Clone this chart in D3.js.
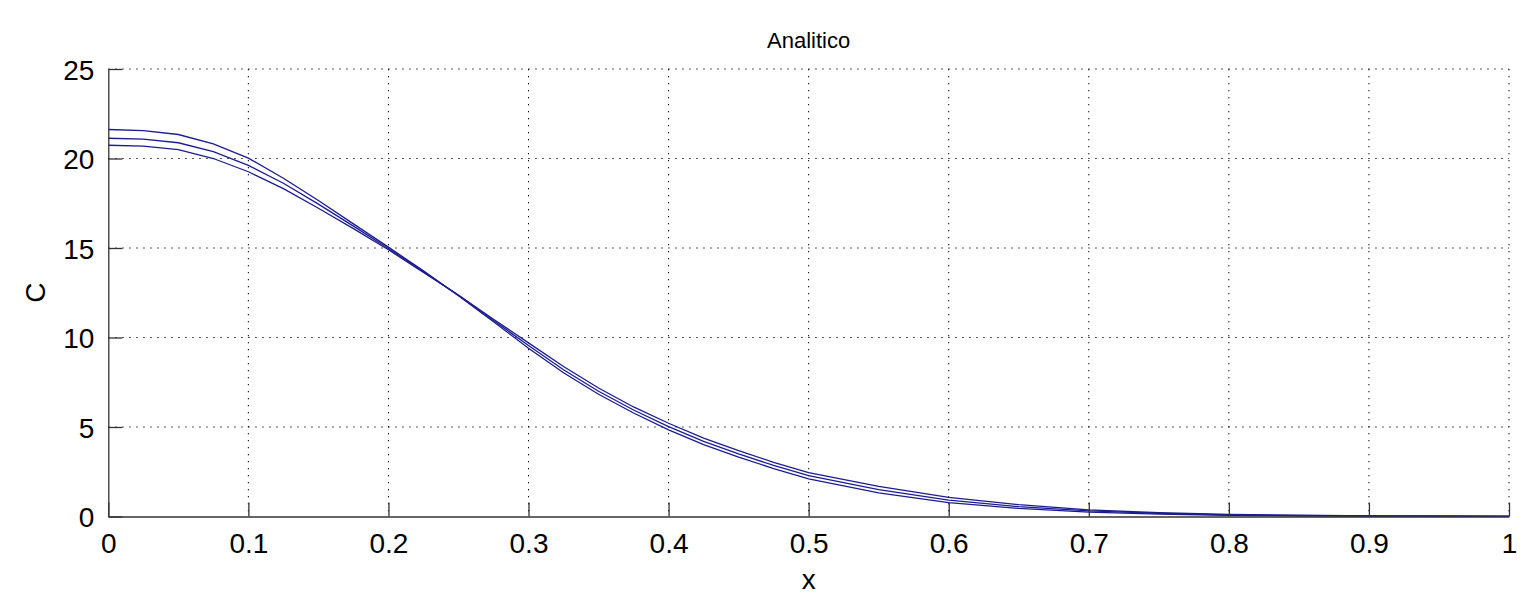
<!DOCTYPE html>
<html>
<head>
<meta charset="utf-8">
<script src="https://cdn.jsdelivr.net/npm/d3@7"></script>
<style>
  body { margin: 0; background: #fff; }
  text { font-family: "Liberation Sans", Arial, sans-serif; fill: #000; }
</style>
</head>
<body>
<div id="chart"></div>
<script>
// sample positions along x
const xs = [0, 0.025, 0.05, 0.075, 0.1, 0.125, 0.15, 0.175, 0.2, 0.225, 0.25, 0.275, 0.3,
  0.325, 0.35, 0.375, 0.4, 0.425, 0.45, 0.475, 0.5, 0.55, 0.6, 0.65, 0.7, 0.75, 0.8, 0.85, 0.9, 1.0];

// three analytic profiles
const curveA = [21.62, 21.56, 21.34, 20.82, 20.02, 18.9, 17.65, 16.35, 15.05, 13.72, 12.33, 10.88, 9.4,
  8.03, 6.83, 5.78, 4.84, 4.02, 3.32, 2.68, 2.1, 1.32, 0.78, 0.45, 0.25, 0.13, 0.07, 0.04, 0.02, 0.005];
const curveB = [21.13, 21.08, 20.88, 20.38, 19.62, 18.62, 17.45, 16.22, 14.97, 13.68, 12.35, 10.95, 9.55,
  8.2, 7.0, 5.95, 5.02, 4.2, 3.5, 2.85, 2.28, 1.5, 0.92, 0.55, 0.31, 0.17, 0.09, 0.05, 0.03, 0.01];
const curveC = [20.74, 20.69, 20.5, 20.0, 19.26, 18.32, 17.22, 16.08, 14.9, 13.64, 12.37, 11.02, 9.7,
  8.38, 7.18, 6.12, 5.21, 4.38, 3.68, 3.03, 2.45, 1.68, 1.07, 0.66, 0.37, 0.21, 0.12, 0.07, 0.04, 0.015];

const xTicks = [0, 0.1, 0.2, 0.3, 0.4, 0.5, 0.6, 0.7, 0.8, 0.9, 1];
const yTicks = [0, 5, 10, 15, 20, 25];

const width = 1528, height = 604;
const margin = { top: 69, right: 19, bottom: 87.5, left: 108.3 };
const plotW = width - margin.left - margin.right;
const plotH = height - margin.top - margin.bottom;

const svg = d3.select("#chart").append("svg")
    .attr("width", width)
    .attr("height", height);

const g = svg.append("g")
    .attr("transform", `translate(${margin.left},${margin.top})`);

const x = d3.scaleLinear().domain([0, 1]).range([0, plotW]);
const y = d3.scaleLinear().domain([0, 25]).range([plotH, 0]);

// dotted grid
g.append("g").selectAll("line")
    .data(xTicks.slice(1))
    .enter().append("line")
    .attr("x1", d => x(d)).attr("x2", d => x(d))
    .attr("y1", 0).attr("y2", plotH)
    .attr("stroke", "#000")
    .attr("stroke-width", 1)
    .attr("stroke-dasharray", "1.3,5.7");

g.append("g").selectAll("line")
    .data(yTicks.slice(1))
    .enter().append("line")
    .attr("x1", 0).attr("x2", plotW)
    .attr("y1", d => y(d)).attr("y2", d => y(d))
    .attr("stroke", "#000")
    .attr("stroke-width", 1)
    .attr("stroke-dasharray", "1.3,5.7");

// curves
const line = d3.line()
    .x(d => x(d[0]))
    .y(d => y(d[1]));

[curveA, curveB, curveC].forEach(vals => {
    g.append("path")
        .datum(xs.map((v, i) => [v, vals[i]]))
        .attr("fill", "none")
        .attr("stroke", "#1c1c92")
        .attr("stroke-width", 1.3)
        .attr("d", line);
});

// axes: ticks pointing inward, labels placed manually
const xAxis = d3.axisBottom(x).tickValues(xTicks).tickSizeInner(-14).tickSizeOuter(0)
    .tickFormat(d3.format("~g"));
const yAxis = d3.axisLeft(y).tickValues(yTicks).tickSizeInner(-14).tickSizeOuter(0)
    .tickFormat(d3.format("~g"));

const gx = g.append("g")
    .attr("transform", `translate(0,${plotH})`)
    .call(xAxis);
const gy = g.append("g").call(yAxis);

[gx, gy].forEach(a => {
    a.select(".domain").attr("stroke", "#333").attr("stroke-width", 1.3);
    a.selectAll(".tick line").attr("stroke", "#333").attr("stroke-width", 1.3);
    a.selectAll(".tick text")
        .style("font-family", '"Liberation Sans", Arial, sans-serif')
        .style("font-size", "28px")
        .attr("fill", "#000");
});
gx.selectAll(".tick text").attr("y", 16.5).attr("dy", "0.71em");
gy.selectAll(".tick text").attr("x", -14).attr("dy", "0.36em");

// title and axis labels
svg.append("text")
    .attr("x", margin.left + plotW / 2)
    .attr("y", 48)
    .attr("text-anchor", "middle")
    .style("font-size", "22px")
    .text("Analitico");

svg.append("text")
    .attr("x", margin.left + plotW / 2)
    .attr("y", 589)
    .attr("text-anchor", "middle")
    .style("font-size", "28px")
    .text("x");

svg.append("text")
    .attr("transform", `translate(45,${margin.top + plotH / 2}) rotate(-90)`)
    .attr("text-anchor", "middle")
    .style("font-size", "28px")
    .text("C");
</script>
</body>
</html>
